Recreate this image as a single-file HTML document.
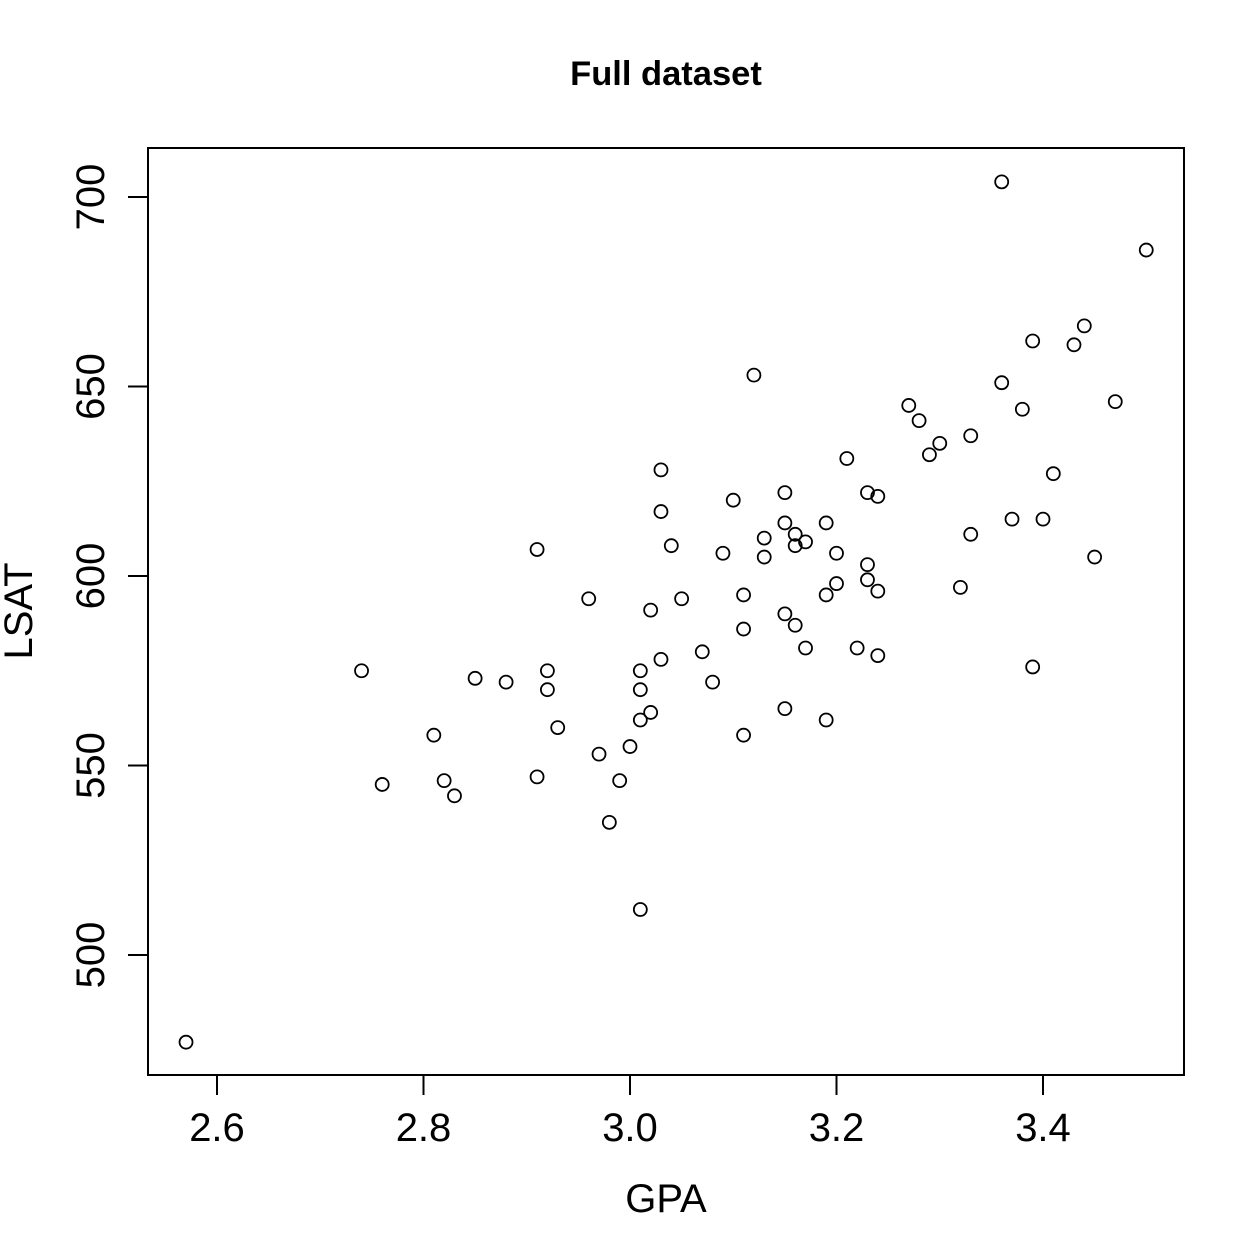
<!DOCTYPE html>
<html><head><meta charset="utf-8"><style>body{margin:0;background:#fff}svg{display:block}text{font-family:"Liberation Sans",Arial,sans-serif;fill:#000}</style></head>
<body>
<svg id="chart" width="1260" height="1260" viewBox="0 0 1260 1260" xmlns="http://www.w3.org/2000/svg">
<text x="666" y="85" text-anchor="middle" font-size="34.5" font-weight="bold">Full dataset</text>
<rect x="148" y="148" width="1036" height="927" fill="none" stroke="#000" stroke-width="2"/>
<text x="666" y="1212" text-anchor="middle" font-size="40">GPA</text>
<text transform="translate(32,611) rotate(-90)" text-anchor="middle" font-size="40">LSAT</text>
<g id="axes"></g><g id="pts"></g>
</svg>
<script>
const gpa=[3.36,3.50,3.44,3.39,3.43,3.12,3.36,3.47,3.27,3.38,3.28,3.33,3.30,3.29,3.21,3.03,3.41,3.15,3.23,3.24,3.10,3.03,3.37,3.40,3.15,3.19,3.16,3.33,3.13,3.17,3.04,3.16,2.91,3.09,3.20,3.13,3.45,3.23,3.23,3.20,3.32,3.24,3.11,3.19,2.96,3.05,3.02,3.15,3.16,3.11,3.17,3.22,3.07,3.24,3.03,3.39,2.74,2.92,3.01,2.85,2.88,3.08,2.92,3.01,3.15,3.02,3.01,3.19,2.93,2.81,3.11,2.97,3.00,2.91,2.82,2.99,2.76,2.83,2.98,3.01,2.57];
const lsat=[704,686,666,662,661,653,651,646,645,644,641,637,635,632,631,628,627,622,622,621,620,617,615,615,614,614,611,611,610,609,608,608,607,606,606,605,605,603,599,598,597,596,595,595,594,594,591,590,587,586,581,581,580,579,578,576,575,575,575,573,572,572,570,570,565,564,562,562,560,558,558,553,555,547,546,546,545,542,535,512,477];
const xTicks=["2.6","2.8","3.0","3.2","3.4"];
const yTicks=["500","550","600","650","700"];
const sx=v=>217+(v-2.6)*1032.5;
const sy=v=>197+(700-v)*3.79;
const NS="http://www.w3.org/2000/svg";
const ax=document.getElementById('axes'),pg=document.getElementById('pts');
function mk(t,a,p){const e=document.createElementNS(NS,t);for(const k in a)e.setAttribute(k,a[k]);p.appendChild(e);return e;}
mk('line',{x1:sx(+xTicks[0]),x2:sx(+xTicks[xTicks.length-1]),y1:1075,y2:1075,stroke:'#000','stroke-width':2},ax);
xTicks.forEach(t=>{const x=sx(+t);
const l=mk('line',{x1:x,x2:x,y1:1075,y2:1095,stroke:'#000','stroke-width':2},ax);


const s=mk('text',{x:x,y:1141,'text-anchor':'middle','font-size':40},ax);s.textContent=t;

});
yTicks.forEach(t=>{const y=sy(+t);
const l=mk('line',{x1:128,x2:148,y1:y,y2:y,stroke:'#000','stroke-width':2},ax);


const s=mk('text',{transform:`translate(104,${y}) rotate(-90)`,'text-anchor':'middle','font-size':40},ax);s.textContent=t;

});
gpa.forEach((g,i)=>{const c=mk('circle',{cx:sx(g),cy:sy(lsat[i]),r:6.5,fill:'none',stroke:'#000','stroke-width':1.8},pg);

});
</script>
</body></html>
